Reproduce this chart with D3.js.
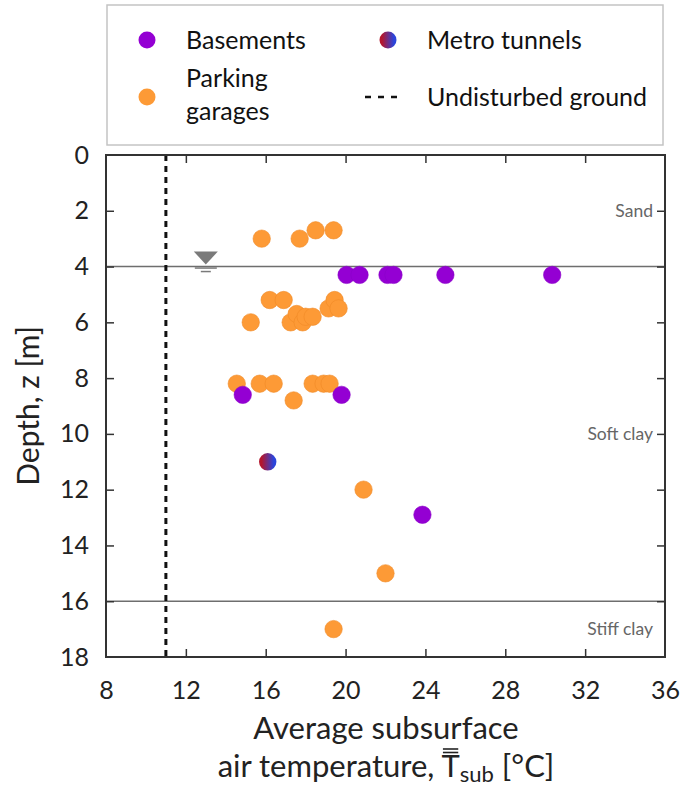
<!DOCTYPE html>
<html><head><meta charset="utf-8">
<script src="https://cdn.jsdelivr.net/npm/d3@7"></script>
<style>body{margin:0;background:#fff}svg{display:block}text{font-family:Lato,"Open Sans",sans-serif}</style>
</head><body><svg id="c" width="691" height="787"></svg>
<script>
const basementsT = [20.05, 20.7, 22.1, 22.4, 25.0, 30.35, 14.85, 19.8, 23.85];
const basementsZ = [4.3, 4.3, 4.3, 4.3, 4.3, 4.3, 8.6, 8.6, 12.9];
const parkingT = [15.8, 17.7, 18.5, 19.4, 16.2, 16.9, 15.25, 17.25, 17.55, 17.85, 18.0, 18.35, 19.15, 19.45, 19.65, 14.55, 15.7, 16.4, 18.35, 18.9, 19.2, 17.4, 20.9, 22.0, 19.4];
const parkingZ = [3.0, 3.0, 2.7, 2.7, 5.2, 5.2, 6.0, 6.0, 5.7, 6.0, 5.8, 5.8, 5.5, 5.2, 5.5, 8.2, 8.2, 8.2, 8.2, 8.2, 8.2, 8.8, 12.0, 15.0, 17.0];
const metroT = [16.1];
const metroZ = [11.0];
const undisturbedT = 11;
const groundwaterT = 13;
const groundwaterZ = 4;
const layerBoundaries = [4, 16];
const layerNames = ["Sand", "Soft clay", "Stiff clay"];
const layerLabelZ = [2, 10, 17];
const xTicks = [8, 12, 16, 20, 24, 28, 32, 36];
const yTicks = [0, 2, 4, 6, 8, 10, 12, 14, 16, 18];

const FONT = "Lato, 'Open Sans', sans-serif";
const svg = d3.select("#c");
const L = 106, R = 665, T = 155, B = 657;
const x = d3.scaleLinear().domain([8, 36]).range([L, R]);
const y = d3.scaleLinear().domain([0, 18]).range([T, B]);

const defs = svg.append("defs");
const grad = defs.append("linearGradient").attr("id", "metro").attr("x1", "0%").attr("x2", "100%");
grad.append("stop").attr("offset", "15%").attr("stop-color", "#b3162e");
grad.append("stop").attr("offset", "85%").attr("stop-color", "#2a45dc");
defs.append("clipPath").attr("id", "clip").append("rect").attr("x", L).attr("y", T).attr("width", R - L).attr("height", B - T);

// legend box
svg.append("rect").attr("x", 107).attr("y", 5).attr("width", 556).attr("height", 140)
  .attr("fill", "#fff").attr("stroke", "#c4c4c4").attr("stroke-width", 1.5);
const lg = svg.append("g").attr("font-size", 25).attr("fill", "#111");
lg.append("circle").attr("cx", 147).attr("cy", 40).attr("r", 8.5).attr("fill", "#9400d3");
lg.append("text").attr("x", 186).attr("y", 49).text("Basements");
lg.append("circle").attr("cx", 388).attr("cy", 40).attr("r", 8.5).attr("fill", "url(#metro)");
lg.append("text").attr("x", 427).attr("y", 49).text("Metro tunnels");
lg.append("circle").attr("cx", 147).attr("cy", 97).attr("r", 8.5).attr("fill", "#fd9a36");
lg.append("text").attr("x", 186).attr("y", 87).text("Parking");
lg.append("text").attr("x", 186).attr("y", 120).text("garages");
lg.append("line").attr("x1", 365).attr("x2", 402).attr("y1", 97).attr("y2", 97)
  .attr("stroke", "#111").attr("stroke-width", 2.5).attr("stroke-dasharray", "6,7");
lg.append("text").attr("x", 427).attr("y", 106).text("Undisturbed ground");

// layer boundaries
svg.append("g").selectAll("line").data(layerBoundaries).join("line")
  .attr("x1", L).attr("x2", R).attr("y1", d => y(d)).attr("y2", d => y(d))
  .attr("stroke", "#6e6e6e").attr("stroke-width", 1.5);

// undisturbed ground
svg.append("line").attr("x1", x(undisturbedT)).attr("x2", x(undisturbedT)).attr("y1", T).attr("y2", B)
  .attr("stroke", "#111").attr("stroke-width", 3).attr("stroke-dasharray", "6,5");

// groundwater table symbol
const gx = x(groundwaterT), gy = y(groundwaterZ);
svg.append("path").attr("d", `M${gx - 12},${gy - 15}L${gx + 12},${gy - 15}L${gx},${gy - 2}Z`).attr("fill", "#7a7a7a");
svg.append("line").attr("x1", gx - 11).attr("x2", gx + 11).attr("y1", gy + 1.5).attr("y2", gy + 1.5).attr("stroke", "#7a7a7a").attr("stroke-width", 1.5);
svg.append("line").attr("x1", gx - 5).attr("x2", gx + 5).attr("y1", gy + 5).attr("y2", gy + 5).attr("stroke", "#7a7a7a").attr("stroke-width", 1.5);

// layer labels
svg.append("g").selectAll("text").data(layerNames).join("text")
  .attr("x", R - 12).attr("y", (d, i) => y(layerLabelZ[i])).attr("dy", "0.35em")
  .attr("text-anchor", "end").attr("font-size", 17.5).attr("fill", "#666").text(d => d);

// points
const pts = svg.append("g").attr("clip-path", "url(#clip)");
pts.selectAll("circle.p").data(parkingT).join("circle").attr("class", "p")
  .attr("cx", d => x(d)).attr("cy", (d, i) => y(parkingZ[i])).attr("r", 8.7)
  .attr("fill", "#fd9a36").attr("stroke", "#f08a26").attr("stroke-width", 0.6);
pts.selectAll("circle.b").data(basementsT).join("circle").attr("class", "b")
  .attr("cx", d => x(d)).attr("cy", (d, i) => y(basementsZ[i])).attr("r", 8.7)
  .attr("fill", "#9400d3").attr("stroke", "#8a00c8").attr("stroke-width", 0.6);
pts.selectAll("circle.m").data(metroT).join("circle").attr("class", "m")
  .attr("cx", d => x(d)).attr("cy", (d, i) => y(metroZ[i])).attr("r", 8.7)
  .attr("fill", "url(#metro)");

// axes (ticks inward)
const tickLen = 8;
const axB = svg.append("g").attr("transform", `translate(0,${B})`)
  .call(d3.axisBottom(x).tickValues(xTicks).tickSize(-tickLen).tickPadding(24).tickSizeOuter(0));
const axT = svg.append("g").attr("transform", `translate(0,${T})`)
  .call(d3.axisTop(x).tickValues(xTicks.slice(1, -1)).tickSize(-tickLen).tickFormat("").tickSizeOuter(0));
const axL = svg.append("g").attr("transform", `translate(${L},0)`)
  .call(d3.axisLeft(y).tickValues(yTicks).tickSize(-tickLen).tickPadding(17).tickSizeOuter(0));
const axR = svg.append("g").attr("transform", `translate(${R},0)`)
  .call(d3.axisRight(y).tickValues(yTicks.slice(1, -1)).tickSize(-tickLen).tickFormat("").tickSizeOuter(0));
[axB, axT, axL, axR].forEach(a => {
  a.select(".domain").remove();
  a.selectAll(".tick line").attr("stroke", "#333").attr("stroke-width", 1.5);
  a.selectAll("text").attr("font-family", FONT).attr("font-size", 25).attr("fill", "#222");
});
axL.selectAll(".tick").filter(d => d === 0 || d === 18).select("line").remove();
axB.selectAll(".tick").filter(d => d === 8 || d === 36).select("line").remove();
svg.append("rect").attr("x", L).attr("y", T).attr("width", R - L).attr("height", B - T)
  .attr("fill", "none").attr("stroke", "#333").attr("stroke-width", 2);

// axis titles
svg.append("text").attr("transform", `translate(39,${(T + B) / 2}) rotate(-90)`)
  .attr("text-anchor", "middle").attr("font-size", 30).attr("fill", "#222").text("Depth, z [m]");
svg.append("text").attr("x", 386).attr("y", 739).attr("text-anchor", "middle")
  .attr("font-size", 31).attr("fill", "#222").text("Average subsurface");
const base2 = 777;
const t2 = svg.append("text").attr("x", 386).attr("y", base2).attr("text-anchor", "middle")
  .attr("font-size", 31).attr("fill", "#222");
t2.append("tspan").text("air temperature, ");
t2.append("tspan").text("T");
t2.append("tspan").attr("font-size", 22).attr("dy", 5).text("sub");
t2.append("tspan").attr("dy", -5).text(" [°C]");
// double overline above T
const node = t2.node();
const idx = "air temperature, ".length;
const start = node.getStartPositionOfChar(idx);
const end = node.getEndPositionOfChar(idx);
[28, 24.5].forEach(off => {
  svg.append("line").attr("x1", start.x + 1.5).attr("x2", end.x - 1.5)
    .attr("y1", base2 - off).attr("y2", base2 - off)
    .attr("stroke", "#222").attr("stroke-width", 1.6);
});
</script></body></html>
